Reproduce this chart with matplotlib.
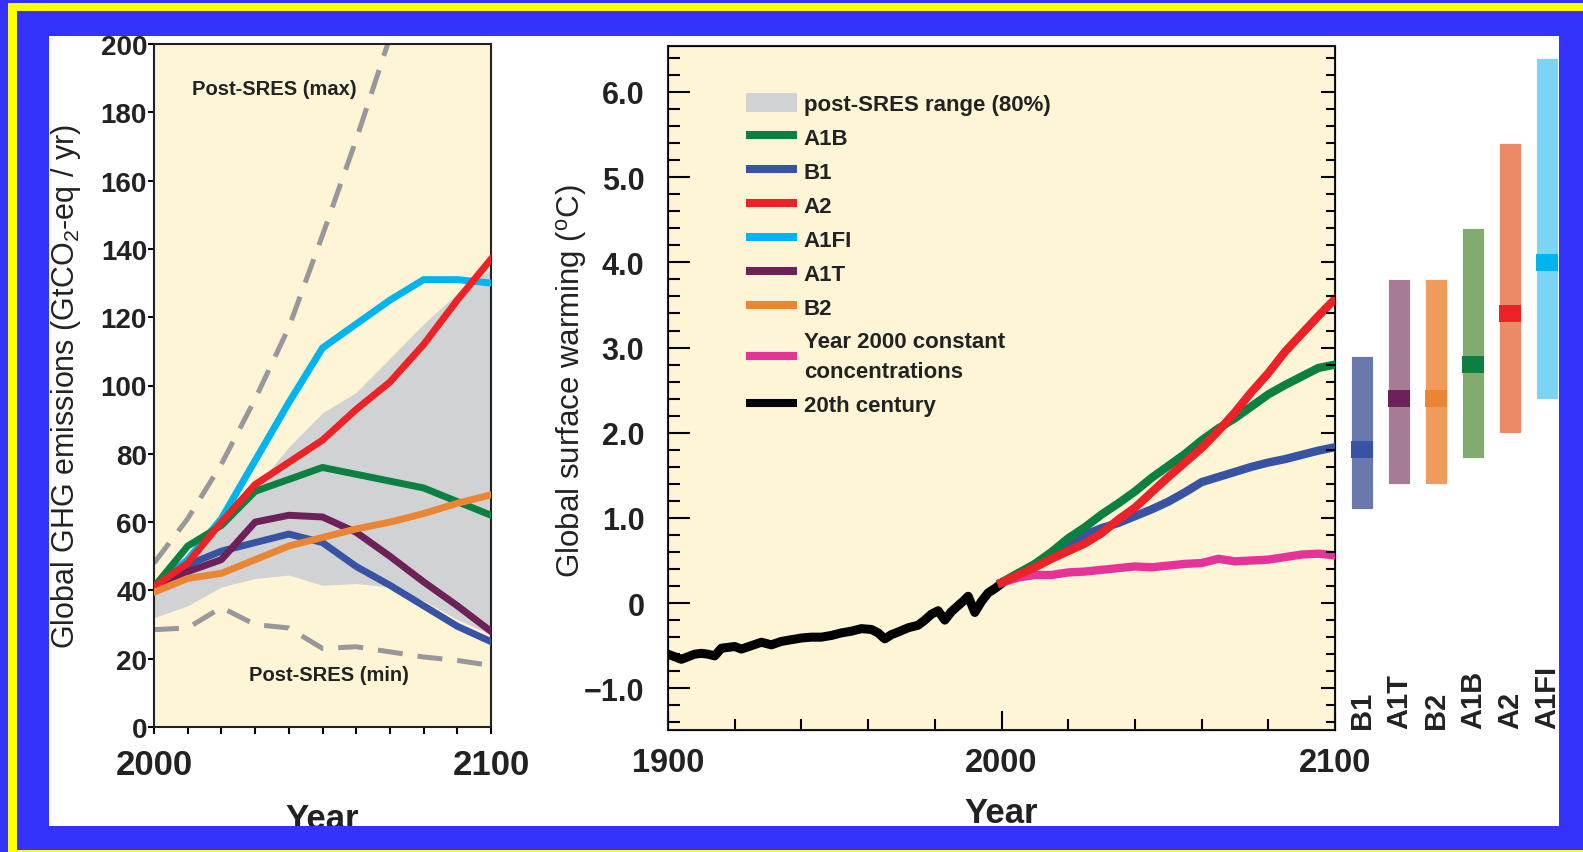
import matplotlib.pyplot as plt
from matplotlib.patches import Rectangle, Patch
from matplotlib.lines import Line2D
from matplotlib.ticker import MultipleLocator, FixedLocator, FixedFormatter

plt.rcParams['font.family'] = ['Liberation Sans', 'DejaVu Sans']
plt.rcParams['mathtext.fontset'] = 'custom'
plt.rcParams['mathtext.rm'] = 'Liberation Sans'
plt.rcParams['mathtext.it'] = 'Liberation Sans:italic'
plt.rcParams['mathtext.bf'] = 'Liberation Sans:bold'

# ---- GHG emissions (GtCO2-eq / yr), decadal ----
decades = [2000, 2010, 2020, 2030, 2040, 2050, 2060, 2070, 2080, 2090, 2100]
ghg_a1fi = [41, 49, 61, 78, 95, 111, 118, 125, 131, 131, 130]
ghg_a2 = [41, 48, 60, 71, 77.5, 84, 93, 101, 112, 125, 137]
ghg_a1b = [41, 53, 59, 69, 72.5, 76, 74, 72, 70, 66, 62]
ghg_a1t = [41, 45.5, 49, 60, 62, 61.5, 57, 50, 42.5, 35.5, 28]
ghg_b1 = [41, 47.5, 51.5, 54, 56.5, 54, 47, 41.5, 35.5, 29.5, 25]
ghg_b2 = [39.5, 43.5, 45, 49, 53, 55.5, 58, 60, 62.5, 65.5, 68]
range_low = [32, 35.5, 41, 43.5, 44.5, 41.5, 42, 41, 37, 31.5, 27]
range_high = [43, 50, 58, 70, 82, 92, 98, 108, 118, 127, 134]
max_years = [2000, 2010, 2020, 2030, 2040, 2050, 2060, 2070]
ghg_max = [48, 61, 77, 96, 117, 144, 172, 202]
ghg_min = [28.5, 29, 35, 30, 29, 23, 23.5, 22, 20.5, 19.5, 18]

# ---- surface warming (deg C) ----
years_20c = [1900, 1902, 1904, 1906, 1908, 1910, 1912, 1914, 1916, 1918, 1920,
             1922, 1925, 1928, 1931, 1934, 1937, 1940, 1943, 1946, 1949, 1952,
             1955, 1958, 1961, 1963, 1965, 1967, 1969, 1972, 1975, 1977, 1979,
             1981, 1983, 1985, 1987, 1989, 1990, 1992, 1994, 1996, 1998, 2000]
temp_20c = [-0.60, -0.63, -0.66, -0.63, -0.60, -0.59, -0.60, -0.62, -0.53, -0.52,
            -0.51, -0.54, -0.50, -0.46, -0.49, -0.45, -0.43, -0.41, -0.40, -0.40,
            -0.38, -0.35, -0.33, -0.30, -0.31, -0.35, -0.42, -0.37, -0.34, -0.29,
            -0.26, -0.20, -0.13, -0.09, -0.20, -0.10, -0.03, 0.04, 0.08, -0.11,
            0.02, 0.12, 0.17, 0.23]
years_proj = list(range(2000, 2101, 5))
temp_a2 = [0.24, 0.33, 0.42, 0.52, 0.61, 0.70, 0.82, 0.98, 1.12, 1.30, 1.48,
           1.65, 1.82, 2.02, 2.24, 2.48, 2.70, 2.95, 3.16, 3.37, 3.57]
temp_a1b = [0.24, 0.35, 0.46, 0.60, 0.76, 0.89, 1.04, 1.17, 1.31, 1.47, 1.61,
            1.75, 1.91, 2.05, 2.17, 2.31, 2.45, 2.56, 2.66, 2.76, 2.80]
temp_b1 = [0.24, 0.35, 0.45, 0.58, 0.71, 0.80, 0.88, 0.94, 1.02, 1.10, 1.19,
           1.30, 1.42, 1.48, 1.54, 1.60, 1.65, 1.69, 1.74, 1.79, 1.83]
temp_const = [0.24, 0.30, 0.33, 0.33, 0.36, 0.37, 0.39, 0.41, 0.43, 0.42, 0.44,
              0.46, 0.47, 0.52, 0.49, 0.50, 0.51, 0.54, 0.57, 0.58, 0.56]

# ---- best estimate and likely range at 2090-2099 ----
scenarios = ['B1', 'A1T', 'B2', 'A1B', 'A2', 'A1FI']
best = [1.8, 2.4, 2.4, 2.8, 3.4, 4.0]
likely_low = [1.1, 1.4, 1.4, 1.7, 2.0, 2.4]
likely_high = [2.9, 3.8, 3.8, 4.4, 5.4, 6.4]

cream = '#fdf5d6'
grey = '#d1d2d4'
dash_grey = '#98979c'
ink = '#222222'
col = {'A1B': '#0b8040', 'B1': '#3953a4', 'A2': '#ec2227', 'A1FI': '#00b5ef',
       'A1T': '#6c2158', 'B2': '#ea8533', 'const': '#e5339a', '20c': 'black'}
light = {'B1': '#6b78ad', 'A1T': '#a67b93', 'B2': '#ef9b5c', 'A1B': '#82ab6f',
         'A2': '#ec8a68', 'A1FI': '#7bd3f5'}

W, H = 1583, 853


def frac(x0, y0, x1, y1):
    return [x0 / W, 1 - y1 / H, (x1 - x0) / W, (y1 - y0) / H]


def bold_ticks(ax):
    for lab in ax.get_xticklabels() + ax.get_yticklabels():
        lab.set_fontweight('bold')


fig = plt.figure(figsize=(W / 100, H / 100), dpi=100, facecolor='white')

# ---------- left panel: emissions ----------
ax1 = fig.add_axes(frac(154, 45, 491, 728))
ax1.set_facecolor(cream)
ax1.fill_between(decades, range_low, range_high, color=grey, lw=0, zorder=1)
ax1.plot(max_years, ghg_max, color=dash_grey, lw=3.6, dashes=(5, 3), zorder=2)
ax1.plot(decades, ghg_min, color=dash_grey, lw=3.6, dashes=(5, 3), zorder=2)
for name, vals in [('A1FI', ghg_a1fi), ('A1B', ghg_a1b), ('B1', ghg_b1),
                   ('A1T', ghg_a1t), ('A2', ghg_a2), ('B2', ghg_b2)]:
    ax1.plot(decades, vals, color=col[name], lw=5, zorder=3)
ax1.text(2035.6, 187, 'Post-SRES (max)', fontsize=14.5, ha='center', va='center',
         fontweight='bold', color=ink)
ax1.text(2052, 15.5, 'Post-SRES (min)', fontsize=14.5, ha='center', va='center',
         fontweight='bold', color=ink)
ax1.set_xlim(2000, 2100)
ax1.set_ylim(0, 200)
ax1.xaxis.set_major_locator(FixedLocator([2000, 2100]))
ax1.xaxis.set_minor_locator(MultipleLocator(10))
ax1.yaxis.set_major_locator(MultipleLocator(20))
ax1.tick_params(axis='y', which='both', direction='out', length=4, width=1.5,
                pad=1, labelsize=20, labelcolor=ink)
ax1.tick_params(axis='x', which='both', direction='out', length=5, width=1.5,
                pad=10, labelsize=25, labelcolor=ink)
bold_ticks(ax1)
for s in ax1.spines.values():
    s.set_linewidth(1.5)
    s.set_color(ink)
ax1.set_xlabel('Year', fontsize=25, labelpad=15, fontweight='bold', color=ink)
ax1.set_ylabel('Global GHG emissions (GtCO$_2$-eq / yr)', fontsize=22, va='center',
               color=ink)
ax1.yaxis.set_label_coords(-0.262, 0.5)

# ---------- middle panel: warming ----------
ax2 = fig.add_axes(frac(668, 47, 1335, 731))
ax2.set_facecolor(cream)
ax2.plot(years_20c, temp_20c, color=col['20c'], lw=6.5, zorder=3)
ax2.plot(years_proj, temp_const, color=col['const'], lw=6, zorder=3)
ax2.plot(years_proj, temp_b1, color=col['B1'], lw=6, zorder=3)
ax2.plot(years_proj, temp_a1b, color=col['A1B'], lw=6, zorder=3)
ax2.plot(years_proj, temp_a2, color=col['A2'], lw=6, zorder=3)
ax2.set_xlim(1900, 2100)
ax2.set_ylim(-1.49, 6.54)
ax2.xaxis.set_major_locator(FixedLocator([1900, 2000, 2100]))
ax2.xaxis.set_minor_locator(MultipleLocator(20))
yt = [-1, 0, 1, 2, 3, 4, 5, 6]
ax2.yaxis.set_major_locator(FixedLocator(yt))
ax2.yaxis.set_major_formatter(FixedFormatter(['\u22121.0', '0', '1.0', '2.0', '3.0',
                                              '4.0', '5.0', '6.0']))
ax2.yaxis.set_minor_locator(MultipleLocator(0.2))
ax2.tick_params(axis='y', which='major', direction='in', length=16, width=1.5,
                pad=17, labelsize=22, labelcolor=ink)
ax2.tick_params(axis='y', which='minor', direction='in', length=8.5, width=1.5)
ax2.tick_params(axis='x', which='major', direction='in', length=14, width=1.5,
                pad=12, labelsize=23.5, labelcolor=ink)
ax2.tick_params(axis='x', which='minor', direction='in', length=8, width=1.5)
bold_ticks(ax2)
for s in ax2.spines.values():
    s.set_linewidth(1.5)
    s.set_color(ink)
ax2.set_xlabel('Year', fontsize=25, labelpad=13, fontweight='bold', color=ink)
ax2.set_ylabel('Global surface warming ($^{\\mathrm{o}}$C)', fontsize=22.5,
               va='center', color=ink)
ax2.yaxis.set_label_coords(-0.144, 0.512)

# right-hand ticks, shorter than the left ones
ax2r = ax2.twinx()
ax2r.set_ylim(ax2.get_ylim())
ax2r.yaxis.set_major_locator(FixedLocator(yt))
ax2r.yaxis.set_minor_locator(MultipleLocator(0.2))
ax2r.tick_params(axis='y', which='major', direction='in', length=10, width=1.5,
                 labelright=False)
ax2r.tick_params(axis='y', which='minor', direction='in', length=6.5, width=1.5)

handles = [Patch(facecolor=grey, edgecolor='none', label='post-SRES range (80%)')]
for name, lab in [('A1B', 'A1B'), ('B1', 'B1'), ('A2', 'A2'), ('A1FI', 'A1FI'),
                  ('A1T', 'A1T'), ('B2', 'B2'),
                  ('const', 'Year 2000 constant\nconcentrations'),
                  ('20c', '20th century')]:
    handles.append(Line2D([], [], color=col[name], lw=5.8, solid_capstyle='butt',
                          label=lab))
leg = ax2.legend(handles=handles, loc='upper left', bbox_to_anchor=(0.117, 0.932),
                 frameon=False, prop={'size': 16, 'weight': 'bold'},
                 handlelength=2.3, handleheight=0.95, handletextpad=0.3,
                 labelspacing=0.53, borderpad=0, borderaxespad=0)
for t in leg.get_texts():
    t.set_linespacing(1.6)
    t.set_color(ink)

# ---------- right: likely ranges ----------
ax3 = fig.add_axes(frac(1337, 47, 1559, 731), sharey=ax2)
ax3.axis('off')
ax3.set_xlim(-0.676, 5.324)
for i, name in enumerate(scenarios):
    ax3.bar(i, likely_high[i] - likely_low[i], bottom=likely_low[i], width=0.6,
            color=light[name], edgecolor='white', lw=0.6)
    ax3.bar(i, 0.2, bottom=best[i] - 0.1, width=0.6, color=col[name], lw=0)
    ax3.text(i, -1.47, name, rotation=90, ha='center', va='bottom', fontsize=21,
             fontweight='bold', color=ink, clip_on=True)
ax2.set_ylim(-1.49, 6.54)

# ---------- frame ----------
blue = '#3333fd'
yellow = '#ffff00'
frame = [(0, 0, W, 37), (0, 827, W, H), (0, 0, 49, H), (1559, 0, W, H)]
for x0, y0, x1, y1 in frame:
    fig.add_artist(Rectangle(frac(x0, y0, x1, y1)[:2], (x1 - x0) / W, (y1 - y0) / H,
                             transform=fig.transFigure, color=blue, lw=0, zorder=5))
for x0, y0, x1, y1 in [(8, 4, 17, H), (8, 4, W, 12), (8, 851, W, H)]:
    fig.add_artist(Rectangle(frac(x0, y0, x1, y1)[:2], (x1 - x0) / W, (y1 - y0) / H,
                             transform=fig.transFigure, color=yellow, lw=0, zorder=6))

fig.savefig('out.png', dpi=100, facecolor=fig.get_facecolor())
